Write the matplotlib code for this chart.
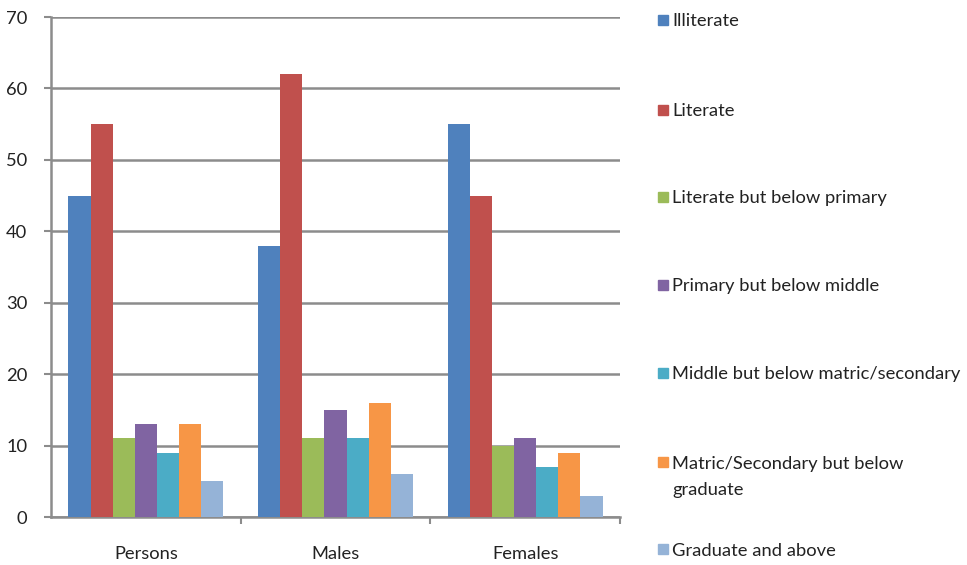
import matplotlib
matplotlib.use("Agg")
import matplotlib.pyplot as plt
from matplotlib.patches import Rectangle
import numpy as np

plt.rcParams['font.family'] = ['Lato', 'DejaVu Sans']

groups = ["Persons", "Males", "Females"]
series_names = [
    "Illiterate",
    "Literate",
    "Literate but below primary",
    "Primary but below middle",
    "Middle but below matric/secondary",
    "Matric/Secondary but below\ngraduate",
    "Graduate and above",
]
illiterate = [45, 38, 55]
literate = [55, 62, 45]
below_primary = [11, 11, 10]
below_middle = [13, 15, 11]
below_matric = [9, 11, 7]
below_graduate = [13, 16, 9]
graduate_above = [5, 6, 3]
series_values = [illiterate, literate, below_primary, below_middle,
                 below_matric, below_graduate, graduate_above]
colors = ["#4F81BD", "#C0504D", "#9BBB59", "#8064A2",
          "#4BACC6", "#F79646", "#95B3D7"]

W, H = 967, 565
fig = plt.figure(figsize=(W / 100, H / 100), dpi=100)
ax = fig.add_axes([51 / W, 1 - 517 / H, (620 - 51) / W, (517 - 17) / H])

n = len(series_values)
bar_w = 0.816 / n
x = np.arange(len(groups))
for i, (vals, c) in enumerate(zip(series_values, colors)):
    ax.bar(x + (i - (n - 1) / 2) * bar_w, vals, width=bar_w, color=c,
           zorder=3, linewidth=0)

ax.set_xlim(-0.5, len(groups) - 0.5)
ax.set_ylim(0, 70)
ax.set_yticks(np.arange(0, 71, 10))
ax.yaxis.grid(True, color="#8c8c8c", linewidth=1.8, zorder=0)
ax.set_axisbelow(True)

txt_color = "#222222"
fs = 13.2
ax.set_xticks(x)
ax.set_xticklabels(groups, fontsize=fs, color=txt_color)
ax.set_xticks(np.arange(-0.5, len(groups), 1)[1:], minor=True)
ax.tick_params(axis="x", which="major", length=0, pad=21)
ax.tick_params(axis="x", which="minor", length=5, width=1.5, color="#8c8c8c")
ax.tick_params(axis="y", length=5, width=1.5, color="#8c8c8c", pad=12,
               labelsize=fs, labelcolor=txt_color)

for s in ["top", "right"]:
    ax.spines[s].set_visible(False)
for s in ["left", "bottom"]:
    ax.spines[s].set_color("#8c8c8c")
    ax.spines[s].set_linewidth(1.8)

# Legend column on the right; multi-line labels hang below their swatch
legend_y = [20, 110, 197, 285, 373, 462, 549]
line_gap = 27
for name, c, yp in zip(series_names, colors, legend_y):
    fig.patches.append(Rectangle((658 / W, 1 - (yp + 5) / H), 10 / W, 10 / H,
                                 transform=fig.transFigure, color=c))
    extra = name.count("\n") * line_gap
    fig.text(672 / W, 1 - (yp + 6.5 + extra) / H, name, fontsize=fs,
             color=txt_color, va="baseline", ha="left", linespacing=1.78)

fig.savefig("out.png", dpi=100)
